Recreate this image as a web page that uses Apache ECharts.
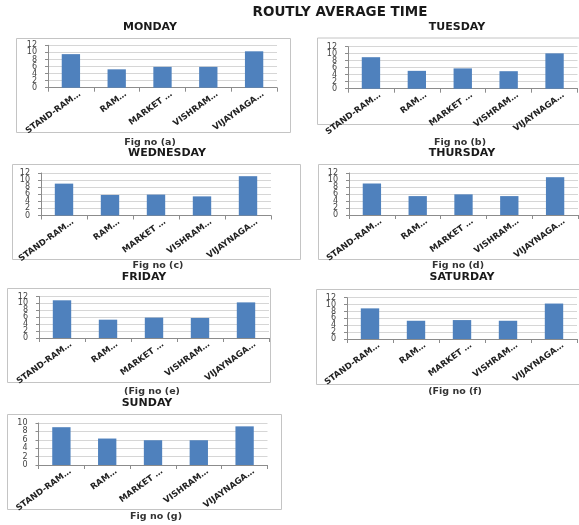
<!DOCTYPE html>
<html>
<head>
<meta charset="utf-8">
<script src="https://cdn.jsdelivr.net/npm/echarts@6/dist/echarts.min.js"></script>
<style>html,body{margin:0;padding:0;background:#fff;}#c{width:579px;height:525px;}</style>
</head>
<body>
<div id="c"></div>
<script>
const mainTitle = 'ROUTLY AVERAGE TIME';
const categories = ['STAND-RAM…', 'RAM…', 'MARKET …', 'VISHRAM…', 'VIJAYNAGA…'];
const days = ['MONDAY', 'TUESDAY', 'WEDNESDAY', 'THURSDAY', 'FRIDAY', 'SATURDAY', 'SUNDAY'];
const figLabels = ['Fig no (a)', 'Fig no (b)', 'Fig no (c)', 'Fig no (d)', '(Fig no (e)', '(Fig no (f)', 'Fig no (g)'];
const monday    = [9.5, 5.2, 5.9, 5.9, 10.3];
const tuesday   = [9.0, 5.1, 5.8, 5.0, 10.1];
const wednesday = [9.0, 5.8, 5.9, 5.4, 11.1];
const thursday  = [9.0, 5.4, 5.9, 5.4, 10.8];
const friday    = [10.9, 5.3, 5.9, 5.8, 10.3];
const saturday  = [8.9, 5.3, 5.5, 5.3, 10.3];
const sunday    = [9.0, 6.3, 5.9, 5.9, 9.2];
const yTicks12  = [0, 2, 4, 6, 8, 10, 12];
const yTicks10  = [0, 2, 4, 6, 8, 10];
const yMaxes    = [12, 12, 12, 12, 12, 12, 10];
const yInterval = 2;

const seriesValues = [monday, tuesday, wednesday, thursday, friday, saturday, sunday];
const yTickSets = [yTicks12, yTicks12, yTicks12, yTicks12, yTicks12, yTicks12, yTicks10];

// layout: plot grids, frame boxes, title and caption positions
const grids = [
  {left: 48, top: 45.3, width: 229, height: 42.4},
  {left: 348, top: 46.7, width: 229.5, height: 42},
  {left: 41, top: 173, width: 230, height: 42.5},
  {left: 349, top: 173, width: 229, height: 42},
  {left: 39, top: 296.5, width: 230, height: 41.5},
  {left: 347, top: 297.7, width: 230, height: 41.3},
  {left: 38.5, top: 423, width: 229, height: 42}
];
const boxes = [
  [16, 38, 274, 94], [317, 37.5, 275, 86.5],
  [12, 164, 288, 95], [318, 164, 275, 95],
  [7, 288, 263, 94], [316, 289, 275, 95],
  [7, 414, 274, 95]
];
const titlePos = [[150, 27], [457, 27], [167, 153], [462, 153], [144, 277.5], [462, 277.5], [147, 403]];
const captionPos = [[150, 143], [460, 143], [158, 265.5], [458, 265.5], [152, 391.5], [455, 391.5], [156, 516.5]];

const FONT = 'DejaVu Sans';
const graphics = [];
boxes.forEach(b => graphics.push({
  type: 'rect', shape: {x: b[0] + 0.5, y: b[1] + 0.5, width: b[2], height: b[3]},
  style: {fill: 'none', stroke: '#c4c4c4', lineWidth: 1}, silent: true
}));
graphics.push({type: 'text', x: 340, y: 12, style: {text: mainTitle, font: 'bold 13.5px ' + FONT, fill: '#1a1a1a', textAlign: 'center', textVerticalAlign: 'middle'}});
days.forEach((d, i) => graphics.push({type: 'text', x: titlePos[i][0], y: titlePos[i][1], style: {text: d, font: 'bold 11px ' + FONT, fill: '#1a1a1a', textAlign: 'center', textVerticalAlign: 'middle'}}));
figLabels.forEach((d, i) => graphics.push({type: 'text', x: captionPos[i][0], y: captionPos[i][1], style: {text: d, font: 'bold 9.5px ' + FONT, fill: '#333', textAlign: 'center', textVerticalAlign: 'middle'}}));

const option = {
  animation: false,
  backgroundColor: '#fff',
  graphic: graphics,
  grid: grids.map(g => Object.assign({containLabel: false}, g)),
  xAxis: grids.map((g, i) => ({
    type: 'category', gridIndex: i, data: categories,
    axisLine: {show: true, lineStyle: {color: '#8c8c8c', width: 1}},
    axisTick: {show: true, length: 4, lineStyle: {color: '#8c8c8c'}},
    axisLabel: {interval: 0, rotate: 36, fontSize: 8.5, fontWeight: 'bold', fontFamily: FONT, color: '#222', margin: 12, padding: [0, -11, 0, 0], hideOverlap: false},
    splitLine: {show: false}
  })),
  yAxis: grids.map((g, i) => ({
    type: 'value', gridIndex: i, min: 0, max: yMaxes[i], interval: yInterval,
    axisLine: {show: true, lineStyle: {color: '#8c8c8c', width: 1}},
    axisTick: {show: true, length: 3, lineStyle: {color: '#8c8c8c'}},
    axisLabel: {show: false},
    splitLine: {show: true, lineStyle: {color: '#d6d6d6', width: 1}}
  })),
  series: seriesValues.map((vals, i) => ({
    type: 'bar', xAxisIndex: i, yAxisIndex: i, data: vals,
    barCategoryGap: '60%',
    itemStyle: {color: '#4F81BD'}
  }))
};
const chart = echarts.init(document.getElementById('c'), null, {renderer: 'canvas'});
chart.setOption(option);

// y tick labels placed through each y axis scale (all labels shown, like the original)
const labelGraphics = graphics.slice();
yTickSets.forEach((ticks, i) => {
  ticks.forEach(v => {
    const py = chart.convertToPixel({yAxisIndex: i}, v);
    labelGraphics.push({type: 'text', x: grids[i].left - 11, y: py,
      style: {text: String(v), font: '8px ' + FONT, fill: '#444', textAlign: 'right', textVerticalAlign: 'middle'}, silent: true});
  });
});
chart.setOption({graphic: labelGraphics});
</script>
</body>
</html>
